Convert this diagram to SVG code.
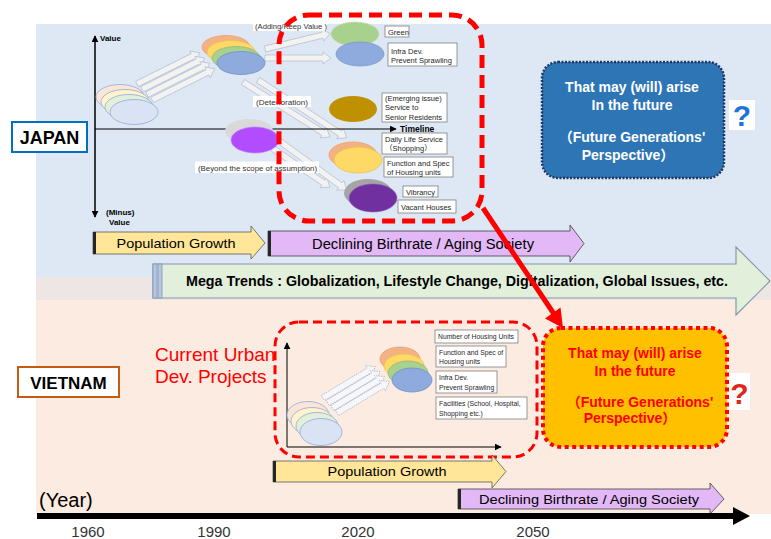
<svg xmlns="http://www.w3.org/2000/svg" width="771" height="539" viewBox="0 0 771 539">
<defs>
<style>
text{font-family:"Liberation Sans","Noto Sans CJK JP",sans-serif}
.lbl{fill:#fff;stroke:#7f7f7f;stroke-width:0.8}
.wb{fill:#fff}
.t8{font-size:7.5px;fill:#262626}
.t7{font-size:6.8px;fill:#262626}
.cap{font-size:7.8px;fill:#333}
.ha{fill:#f2f2f2;stroke:#b4bccc;stroke-width:0.7}
.hd{fill:#f5f7fb;stroke:#a4aec4;stroke-width:0.7;stroke-dasharray:1.5 1}
.axv{stroke:#000;stroke-width:1;fill:none}
.pg{fill:#ffe699;stroke:#595959;stroke-width:0.8}
.db{fill:#e3b8f7;stroke:#404040;stroke-width:0.8}
.bar{fill:#262626}
.big{font-size:14px;font-weight:bold;text-anchor:middle}
.wt{fill:#fff}
.rt{fill:#ff0000}
.q{font-size:30px;font-weight:bold;text-anchor:middle}
.yr{font-size:15px;fill:#333;text-anchor:middle}
</style>
<marker id="ah" viewBox="0 0 10 10" refX="9" refY="5" markerWidth="7" markerHeight="7" orient="auto">
<path d="M0,0L10,5L0,10Z" fill="#000"/>
</marker>
</defs>

<!-- backgrounds -->
<rect x="0" y="0" width="771" height="539" fill="#fff"/>
<rect x="36" y="24" width="735" height="253" fill="#dde8f4"/>
<rect x="36" y="277" width="735" height="23" fill="#eee6e4"/>
<rect x="36" y="300" width="735" height="214" fill="#fbebe0"/>

<!-- Japan chart -->
<g id="japan-chart">
  <!-- hollow flow arrows -->
  <g class="ha">
    <path transform="translate(137,84) rotate(-26.5)" d="M0,-3H62V-6L70,0L62,6V3H0Z"/>
    <path transform="translate(142,89.3) rotate(-26.5)" d="M0,-3H62V-6L70,0L62,6V3H0Z"/>
    <path transform="translate(147,94.6) rotate(-26.5)" d="M0,-3H62V-6L70,0L62,6V3H0Z"/>
    <path transform="translate(152,100) rotate(-26.5)" d="M0,-3H62V-6L70,0L62,6V3H0Z"/>
    <path transform="translate(265,49) rotate(-13.5)" d="M0,-3H59V-6L67,0L59,6V3H0Z"/>
    <path transform="translate(265,58)" d="M0,-3H58V-6L66,0L58,6V3H0Z"/>
    <path transform="translate(243,82) rotate(32.3)" d="M0,-3H95V-6L103,0L95,6V3H0Z"/>
    <path transform="translate(258,80) rotate(33.1)" d="M0,-3H98V-6L106,0L98,6V3H0Z"/>
    <path transform="translate(272,148) rotate(34)" d="M0,-3H62V-6L70,0L62,6V3H0Z"/>
    <path transform="translate(278,140) rotate(36)" d="M0,-3H77V-6L85,0L77,6V3H0Z"/>
  </g>
  <!-- axes -->
  <line class="axv" x1="95" y1="217" x2="95" y2="36" marker-end="url(#ah)"/>
  <line class="axv" x1="95" y1="36" x2="95" y2="217" marker-end="url(#ah)"/>
  <line class="axv" x1="95" y1="129" x2="396" y2="129" marker-end="url(#ah)" stroke-width="1.3"/>
  <text x="100" y="41" font-size="8" font-weight="bold">Value</text>
  <text x="106" y="215" font-size="8" font-weight="bold">(Minus)</text>
  <text x="109" y="225" font-size="8" font-weight="bold">Value</text>
  <text x="400" y="131.5" font-size="8.5" font-weight="bold">Timeline</text>

  <!-- earlier state (faded stack) -->
  <g stroke="#8faadc" stroke-width="0.8">
    <ellipse cx="120" cy="97" rx="24" ry="12.5" fill="#fbe5d6"/>
    <ellipse cx="125" cy="102" rx="24" ry="12.5" fill="#fff2cc"/>
    <ellipse cx="129" cy="107" rx="24" ry="12.5" fill="#e2f0d9"/>
    <ellipse cx="134" cy="112" rx="24" ry="12.5" fill="#dae3f3"/>
  </g>
  <!-- current state stack -->
  <g stroke-width="0.8">
    <ellipse cx="226" cy="47" rx="24" ry="11.5" fill="#f4b183" stroke="#e8a070"/>
    <ellipse cx="231" cy="52" rx="24" ry="11.5" fill="#ffd966" stroke="#e8c050"/>
    <ellipse cx="236" cy="58" rx="24" ry="11.5" fill="#a9d18e" stroke="#90b878"/>
    <ellipse cx="241" cy="63" rx="24" ry="11.5" fill="#8faadc" stroke="#6f8fc8"/>
  </g>
</g>

<!-- Japan outcomes -->
<g id="jp-green">
  <ellipse cx="355" cy="34" rx="24" ry="12" fill="#a9d18e" stroke="#c8dcb8" stroke-width="0.8"/>
  <rect class="lbl" x="385" y="26" width="24" height="11"/>
  <text class="t8" x="388" y="34.5">Green</text>
</g>
<g id="jp-infra">
  <ellipse cx="360" cy="54" rx="24" ry="12" fill="#8faadc" stroke="#7a98d0" stroke-width="0.8"/>
  <rect class="lbl" x="388" y="43" width="69" height="23"/>
  <text class="t8" x="391" y="53.5">Infra Dev.</text>
  <text class="t8" x="391" y="62.5">Prevent Sprawling</text>
</g>
<g id="jp-senior">
  <ellipse cx="353" cy="109" rx="24" ry="13" fill="#bf9000"/>
  <rect class="lbl" x="382" y="93" width="65" height="29"/>
  <text class="t8" x="385" y="101">(Emerging issue)</text>
  <text class="t8" x="385" y="110">Service to</text>
  <text class="t8" x="385" y="119.5">Senior Residents</text>
</g>
<g id="jp-daily">
  <ellipse cx="353" cy="155" rx="24" ry="13" fill="#f4b183" stroke="#e8a070" stroke-width="0.8"/>
  <ellipse cx="358" cy="160" rx="24" ry="13" fill="#ffd966" stroke="#e8c050" stroke-width="0.8"/>
  <rect class="lbl" x="382" y="133" width="65" height="21"/>
  <text class="t8" x="385" y="141.5">Daily Life Service</text>
  <text class="t8" x="385" y="151">（Shopping）</text>
  <rect class="lbl" x="384" y="157" width="69" height="20"/>
  <text class="t8" x="387" y="165.5">Function and Spec</text>
  <text class="t8" x="387" y="174.5">of Housing units</text>
</g>
<g id="jp-vacant">
  <ellipse cx="368" cy="193" rx="24" ry="14" fill="#a5a5a5"/>
  <ellipse cx="373" cy="198" rx="24" ry="14" fill="#7030a0" stroke="#8a5ab8" stroke-width="0.6"/>
  <rect class="lbl" x="403" y="186" width="35" height="11"/>
  <text class="t8" x="406" y="194.5">Vibrancy</text>
  <rect class="lbl" x="398" y="200" width="58" height="13"/>
  <text class="t8" x="401" y="209.5">Vacant Houses</text>
</g>
<g id="jp-beyond">
  <ellipse cx="249" cy="131" rx="24" ry="12" fill="#d9d9d9"/>
  <ellipse cx="255" cy="140" rx="24" ry="13" fill="#b14cff" stroke="#c080ff" stroke-width="0.6"/>
</g>
<g id="jp-captions">
  <rect class="wb" x="253" y="20" width="74" height="11"/>
  <text class="cap" x="255" y="28.5" textLength="72" lengthAdjust="spacingAndGlyphs">(Adding/Keep Value )</text>
  <rect class="wb" x="253" y="96" width="58" height="11"/>
  <text class="cap" x="256" y="104.5" textLength="52" lengthAdjust="spacingAndGlyphs">(Deterioration)</text>
  <rect class="wb" x="195" y="161.5" width="124" height="11.5"/>
  <text class="cap" x="198" y="170.5" textLength="119" lengthAdjust="spacingAndGlyphs">(Beyond the scope of assumption)</text>
</g>

<!-- Japan dashed frame -->
<g id="jp-focus">
  <rect x="279" y="15" width="203" height="206" rx="30" fill="none" stroke="#ff0000" stroke-width="5" stroke-dasharray="13 7"/>
</g>

<!-- Japan future box -->
<g id="jp-future">
  <rect x="542" y="62" width="182" height="116" rx="16" fill="#2e75b6" stroke="#1f3864" stroke-width="2.5" stroke-dasharray="2 1.5"/>
  <text class="big wt" x="632" y="92">That may (will) arise</text>
  <text class="big wt" x="632" y="110">In the future</text>
  <text class="big wt" x="632" y="142">（Future Generations'</text>
  <text class="big wt" x="628" y="160">Perspective）</text>
  <rect class="wb" x="729" y="100" width="26" height="30"/>
  <text class="q" x="742" y="126" style="fill:#1f74d6">?</text>
</g>

<g id="japan-label">
  <rect x="12" y="122" width="75" height="30" fill="#fff" stroke="#0070c0" stroke-width="2"/>
  <text x="49.5" y="143.5" font-size="18" font-weight="bold" text-anchor="middle">JAPAN</text>
</g>

<!-- Japan trend arrows -->
<g id="jp-population">
  <path class="pg" d="M93,232H251V226L265,243L251,259V254H93Z"/>
  <rect class="bar" x="93" y="232" width="3" height="22"/>
  <text x="176" y="248" font-size="13" text-anchor="middle" textLength="119" lengthAdjust="spacingAndGlyphs">Population Growth</text>
</g>
<g id="jp-aging">
  <path class="db" d="M268,231H570V225L584,243.5L570,262V256H268Z"/>
  <rect class="bar" x="268" y="231" width="3" height="25"/>
  <text x="423" y="248.5" font-size="14" text-anchor="middle" textLength="222" lengthAdjust="spacingAndGlyphs">Declining Birthrate / Aging Society</text>
</g>
<g id="megatrends">
  <path d="M153,264H736V247L770,281L736,315V298H153Z" fill="#e2efda" stroke="#8497b0" stroke-width="1.2"/>
  <rect x="153" y="264" width="4" height="34" fill="#b4c7e7" stroke="#8497b0" stroke-width="0.8"/>
  <rect x="158" y="264" width="4" height="34" fill="#b4c7e7" stroke="#8497b0" stroke-width="0.8"/>
  <text x="186" y="286" font-size="14" font-weight="bold" textLength="542" lengthAdjust="spacingAndGlyphs">Mega Trends : Globalization, Lifestyle Change, Digitalization, Global Issues, etc.</text>
</g>

<!-- Vietnam -->
<g id="vietnam-label">
  <rect x="18" y="367" width="101" height="30" fill="#fff" stroke="#c55a11" stroke-width="2"/>
  <text x="68.5" y="388.5" font-size="17" font-weight="bold" text-anchor="middle">VIETNAM</text>
</g>
<g id="vn-projects-title">
  <text class="rt" x="155" y="361" font-size="19">Current Urban</text>
  <text class="rt" x="155" y="383" font-size="19">Dev. Projects</text>
</g>
<g id="vn-chart">
  <rect x="275" y="322" width="262" height="135" rx="24" fill="none" stroke="#ff0000" stroke-width="3" stroke-dasharray="9 5"/>
  <line class="axv" x1="287" y1="447" x2="287" y2="343" marker-end="url(#ah)"/>
  <line class="axv" x1="287" y1="447" x2="501" y2="447" marker-end="url(#ah)"/>
  <g class="hd">
    <path transform="translate(323,398) rotate(-31)" d="M0,-3H53V-6L61,0L53,6V3H0Z"/>
    <path transform="translate(327.7,403) rotate(-31)" d="M0,-3H53V-6L61,0L53,6V3H0Z"/>
    <path transform="translate(332.3,408) rotate(-31)" d="M0,-3H53V-6L61,0L53,6V3H0Z"/>
    <path transform="translate(337,413) rotate(-31)" d="M0,-3H53V-6L61,0L53,6V3H0Z"/>
  </g>
  <g stroke="#8faadc" stroke-width="0.8">
    <ellipse cx="308" cy="415" rx="21" ry="13.5" fill="#fbe5d6"/>
    <ellipse cx="312" cy="421" rx="21" ry="13.5" fill="#fff2cc"/>
    <ellipse cx="317" cy="426" rx="21" ry="13.5" fill="#e2f0d9"/>
    <ellipse cx="321" cy="432" rx="21" ry="13.5" fill="#dae3f3"/>
  </g>
  <g stroke-width="0.8">
    <ellipse cx="400" cy="359" rx="20" ry="12" fill="#f4b183" stroke="#e8a070"/>
    <ellipse cx="404" cy="366" rx="20" ry="12" fill="#ffd966" stroke="#e8c050"/>
    <ellipse cx="408" cy="373" rx="20" ry="12" fill="#a9d18e" stroke="#90b878"/>
    <ellipse cx="412" cy="380" rx="20" ry="12" fill="#8faadc" stroke="#6f8fc8"/>
  </g>
  <rect class="lbl" x="435" y="330" width="83" height="13"/>
  <text class="t7" x="438" y="339">Number of Housing Units</text>
  <rect class="lbl" x="436" y="346" width="70" height="21"/>
  <text class="t7" x="439" y="354.5">Function and Spec of</text>
  <text class="t7" x="439" y="364">Housing units</text>
  <rect class="lbl" x="436" y="371" width="61" height="22"/>
  <text class="t7" x="439" y="380">Infra Dev.</text>
  <text class="t7" x="439" y="390">Prevent Sprawling</text>
  <rect class="lbl" x="436" y="397" width="91" height="22"/>
  <text class="t7" x="439" y="406">Facilities (School, Hospital,</text>
  <text class="t7" x="439" y="416">Shopping etc.)</text>
</g>

<g id="vn-future">
  <rect x="543" y="328" width="184" height="119" rx="18" fill="#ffc000" stroke="#ff0000" stroke-width="4" stroke-dasharray="4 3.5"/>
  <text class="big rt" x="635" y="358">That may (will) arise</text>
  <text class="big rt" x="635" y="376">In the future</text>
  <text class="big rt" x="640" y="407">（Future Generations'</text>
  <text class="big rt" x="630" y="423">Perspective）</text>
  <rect class="wb" x="729" y="373" width="21" height="37"/>
  <text class="q" x="739.5" y="404" style="fill:#e0261b">?</text>
</g>

<g id="vn-population">
  <path class="pg" d="M273,461H492V455L506,471.5L492,488V482H273Z"/>
  <rect class="bar" x="273" y="461" width="3" height="21"/>
  <text x="387" y="476" font-size="13" text-anchor="middle" textLength="119" lengthAdjust="spacingAndGlyphs">Population Growth</text>
</g>
<g id="vn-aging">
  <path class="db" d="M458,489H710V483L724,499L710,514V509H458Z"/>
  <rect class="bar" x="458" y="489" width="3" height="20"/>
  <text x="589" y="504" font-size="13" text-anchor="middle" textLength="220" lengthAdjust="spacingAndGlyphs">Declining Birthrate / Aging Society</text>
</g>

<!-- time axis -->
<g id="time-axis">
  <text x="39" y="507" font-size="20">(Year)</text>
  <rect x="37" y="513" width="698" height="6" fill="#000"/>
  <path d="M733,507L750,516L733,525Z" fill="#000"/>
  <text class="yr" x="88" y="537">1960</text>
  <text class="yr" x="214" y="537">1990</text>
  <text class="yr" x="358" y="537">2020</text>
  <text class="yr" x="533" y="537">2050</text>
</g>

<!-- connector -->
<g id="connectors">
  <line x1="483" y1="208" x2="554" y2="314" stroke="#ff0000" stroke-width="5"/>
  <path d="M545,318.5L563,328L560.5,307.5Z" fill="#ff0000"/>
</g>
</svg>
